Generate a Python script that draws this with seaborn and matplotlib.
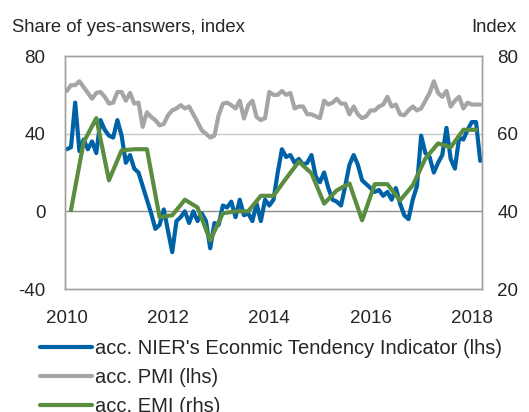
import numpy as np
import pandas as pd
import matplotlib.pyplot as plt
import seaborn as sns

# monthly data Jan 2010 - Mar 2018
nier = [32, 33, 56, 31, 37, 32, 36, 30, 47, 42, 39, 38, 47, 39, 25, 29, 22, 20, 13, 6,
        -1, -9, -7, 1, -10, -21, -5, -3, 0, -6, 0, -5, -1, -5, -19, -6, -7, 3, 2, 5,
        -3, 6, -2, -1, -5, 4, -5, 6, 3, 6, 20, 32, 28, 29, 25, 27, 24, 25, 29, 18,
        15, 20, 12, 6, 5, 3, 13, 24, 29, 24, 16, 14, 12, 10, 11, 8, 10, 6, 12, 4,
        -2, -4, 6, 13, 39, 30, 28, 20, 25, 29, 43, 27, 22, 38, 37, 42, 46, 46, 26]
pmi = [62, 65, 65, 67, 64, 61, 58, 61, 61.5, 59, 55.5, 56, 61.5, 61.5, 57, 61, 55.5, 56, 43.5, 51,
       48.6, 47, 44.3, 45, 49.5, 52, 53, 54.7, 53, 54, 50, 46, 41.7, 40, 38, 39, 49.5, 55.5, 56, 54.7,
       53, 57, 47.8, 54.7, 57, 48.6, 47, 48, 61.5, 60, 60, 62, 60, 61, 53, 54, 54, 50, 50, 49,
       48, 57, 55, 56, 58, 55.5, 55.5, 50, 54, 50, 48, 49, 52, 52, 54, 55, 59, 54, 55, 50,
       49.5, 52, 54, 52, 53, 57, 61, 67, 61, 59, 62, 54, 57, 59, 53, 56, 55, 55, 55]
# quarterly EMI, plotted at months 1, 4, 7, ...
emi = [40.3, 57.8, 64, 48, 55.7, 56, 56, 38.5, 39, 43, 41, 32.5, 39.5, 40, 40, 44, 44,
       48.5, 52.8, 49.8, 42, 45.4, 47.2, 37.7, 47, 47, 42.8, 46.7, 53.6, 57.5, 56.5, 61, 61]

year_labels = ['2010', '2012', '2014', '2016', '2018']

blue = '#0062A6'
grey = '#A5A5A5'
green = '#5A8D3F'

monthly = pd.DataFrame({'month': np.arange(len(nier)), 'nier': nier, 'pmi': pmi})
quarterly = pd.DataFrame({'month': np.arange(len(emi)) * 3 + 1, 'emi': emi})

sns.set_style('white')
plt.rcParams['font.family'] = ['Liberation Sans', 'DejaVu Sans']
plt.rcParams['axes.unicode_minus'] = False

fig = plt.figure(figsize=(5.29, 4.12), dpi=100)
ax = fig.add_axes([0.123, 0.2985, 0.788, 0.5655])
ax2 = ax.twinx()

sns.lineplot(data=monthly, x='month', y='pmi', ax=ax, color=grey, lw=3,
             label='acc. PMI (lhs)', legend=False, zorder=3)
sns.lineplot(data=monthly, x='month', y='nier', ax=ax, color=blue, lw=3,
             label="acc. NIER's Econmic Tendency Indicator (lhs)", legend=False, zorder=4)
sns.lineplot(data=quarterly, x='month', y='emi', ax=ax2, color=green, lw=3,
             label='acc. EMI (rhs)', legend=False)

ax.set_ylim(-40, 80)
ax2.set_ylim(20, 80)
ax.set_yticks([-40, 0, 40, 80])
ax2.set_yticks([20, 40, 60, 80])
ax.set_xlim(-0.4, 98.4)
ax.set_xticks([0, 24, 48, 72, 96])
ax.set_xticklabels(year_labels)
ax.set_xlabel('')
ax.set_ylabel('')
ax2.set_ylabel('')

ax.axhline(40, color='#C8C8C8', lw=1, zorder=1)
ax.axhline(0, color='#8C8C8C', lw=1, zorder=1)

ax.tick_params(axis='x', length=0, labelsize=13.5, pad=15)
ax.tick_params(axis='y', length=0, labelsize=13.5, pad=14)
ax2.tick_params(axis='y', length=0, labelsize=13.5, pad=11)
for a in (ax, ax2):
    for s in a.spines.values():
        s.set_color('#A0A0A0')
        s.set_linewidth(1)

# draw green above the left axes lines
ax2.set_zorder(ax.get_zorder() + 1)

fig.text(0.023, 0.922, 'Share of yes-answers, index', fontsize=13.3, ha='left', va='baseline')
fig.text(0.977, 0.922, 'Index', fontsize=13.3, ha='right', va='baseline')

h1, l1 = ax.get_legend_handles_labels()
h2, l2 = ax2.get_legend_handles_labels()
handles = [h1[1], h1[0], h2[0]]
labels = [l1[1], l1[0], l2[0]]
fig.legend(handles, labels, loc='upper left', bbox_to_anchor=(0.076, 0.178), frameon=False,
           fontsize=14.5, handlelength=2.55, handletextpad=0.15, labelspacing=0.5,
           borderaxespad=0, borderpad=0)

fig.savefig('out.png', dpi=100)
